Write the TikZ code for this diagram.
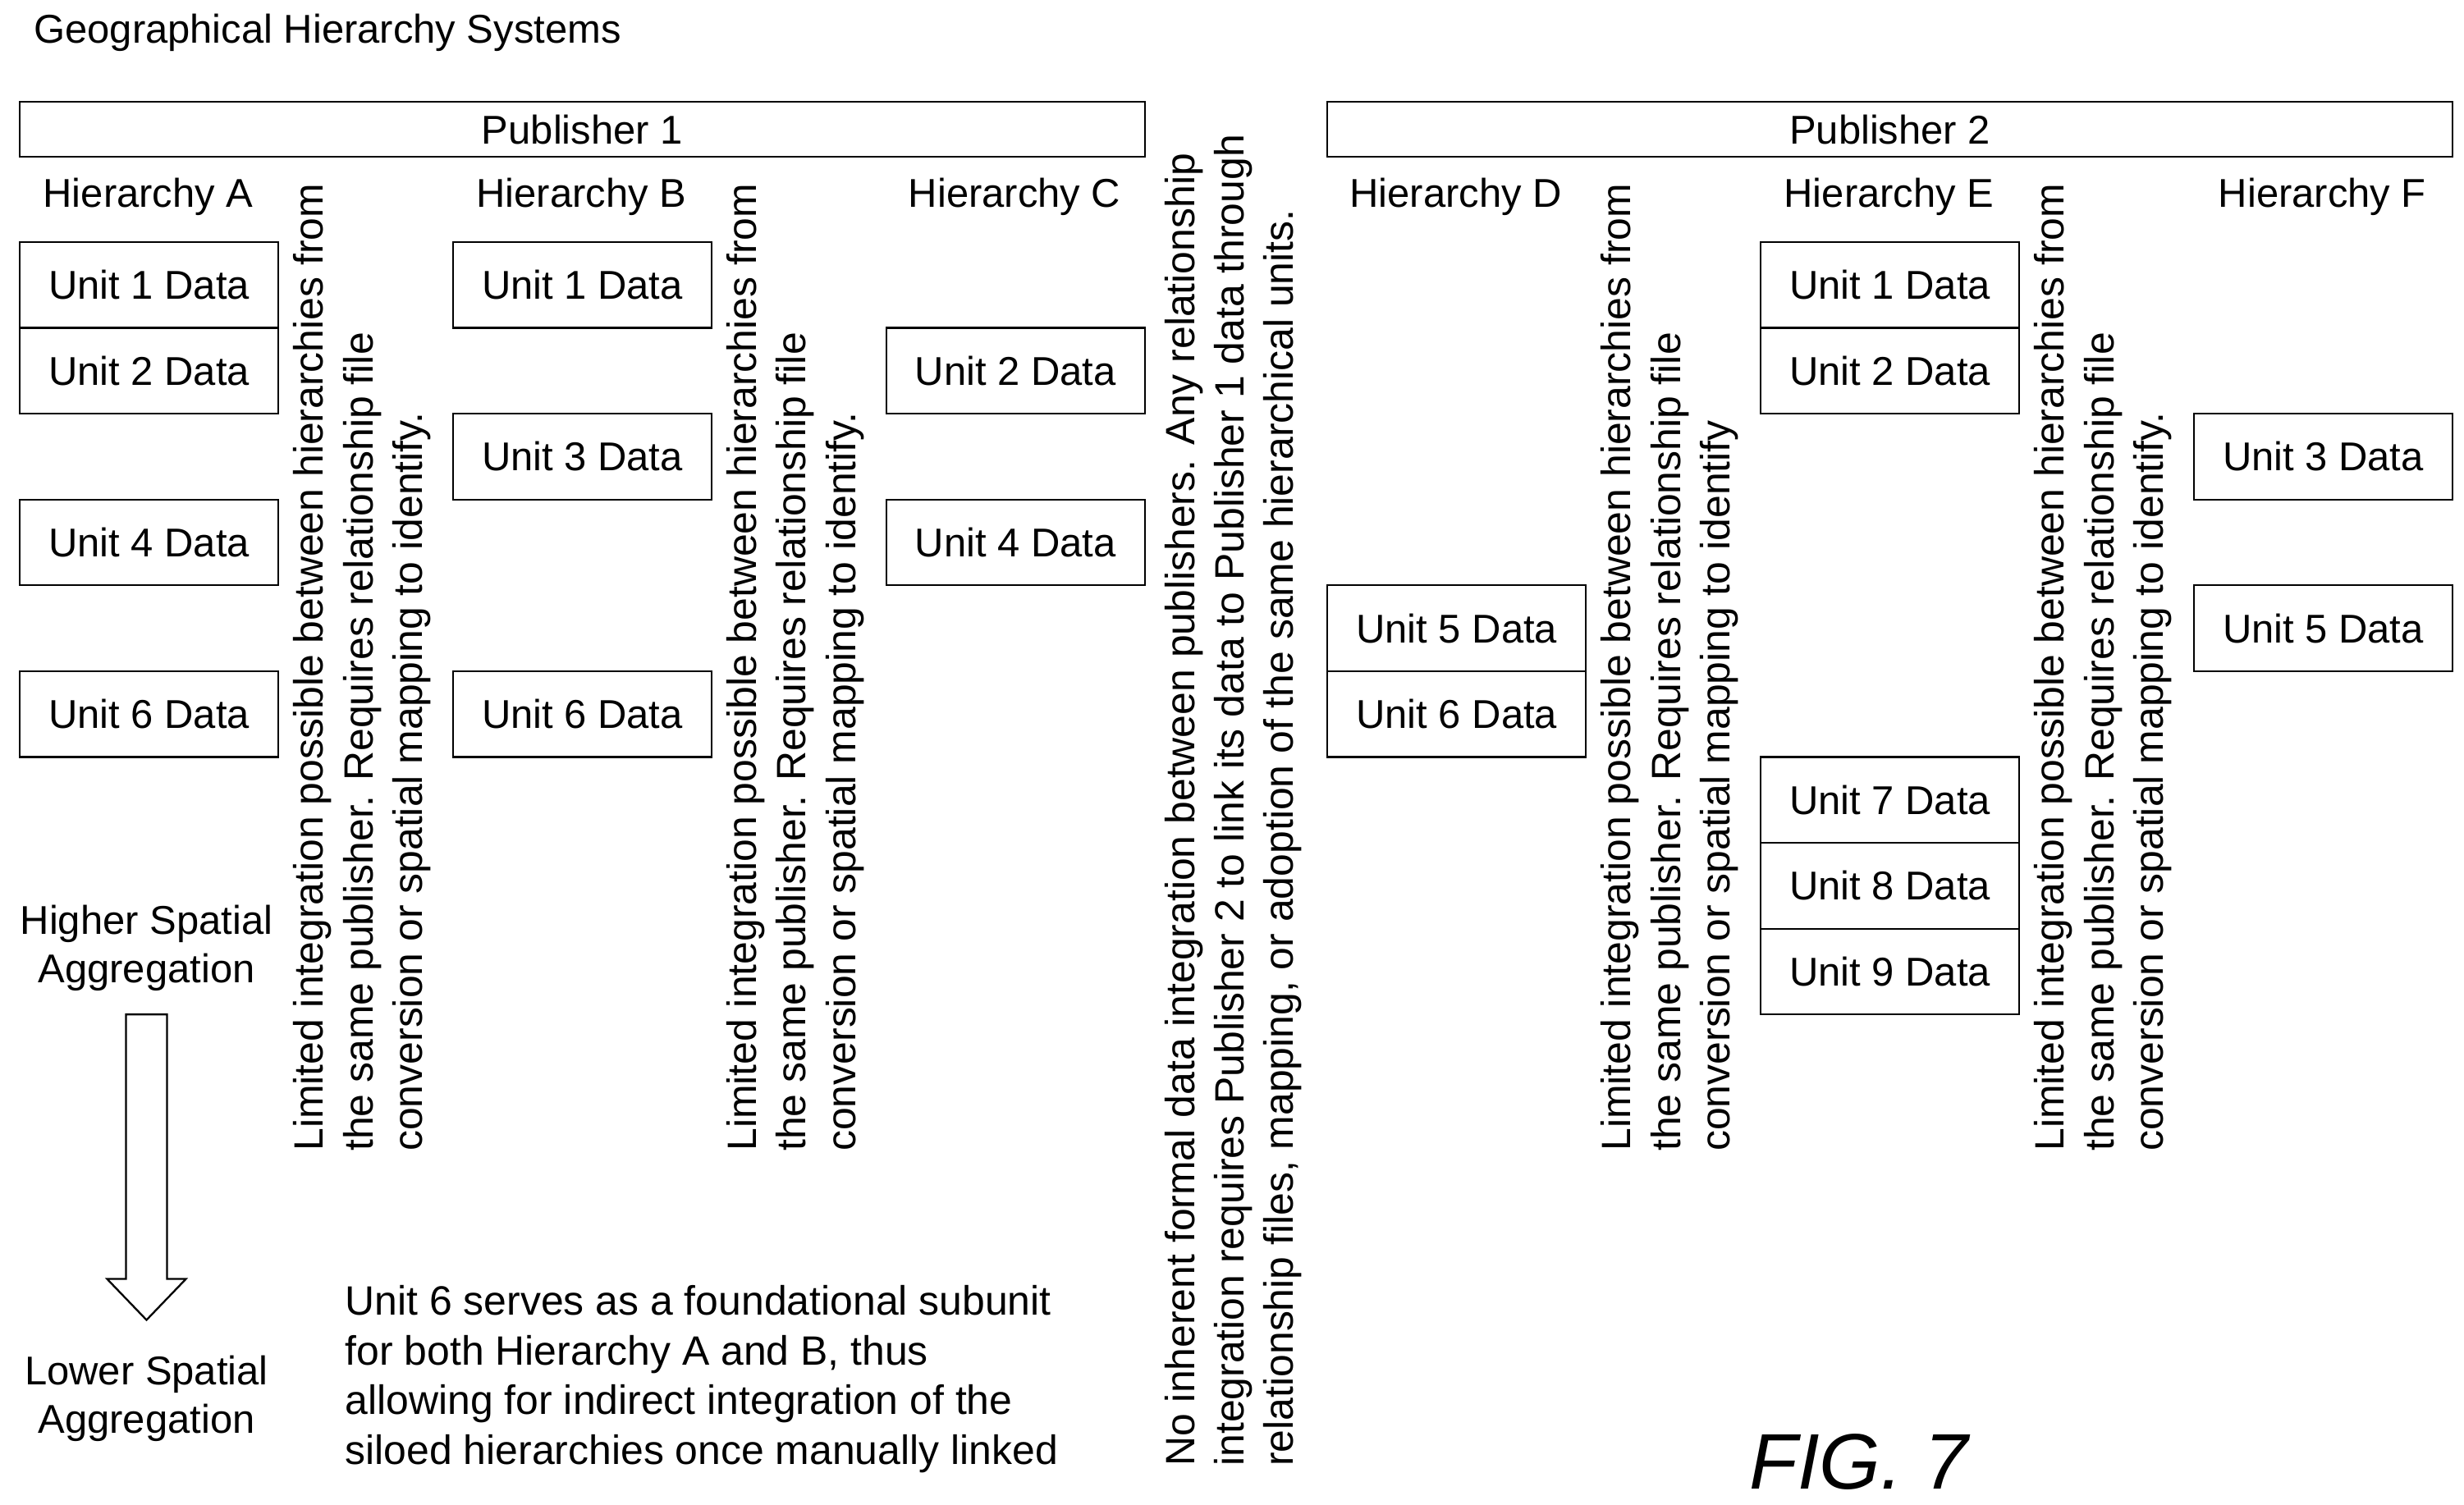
\documentclass[tikz,border=0pt]{standalone}
\usepackage{fontspec}
\setmainfont{Liberation Sans}
\usetikzlibrary{positioning}
\tikzset{
  unit/.style={draw,line width=1.2pt,minimum width=164pt,minimum height=54.5pt,inner sep=0pt,anchor=north west,font=\fontsize{25.5}{30}\selectfont},
  pub/.style={draw,line width=1.2pt,minimum width=714pt,minimum height=35pt,inner sep=0pt,anchor=north west,font=\fontsize{25.5}{30}\selectfont},
  hier/.style={font=\fontsize{25.5}{30}\selectfont},
  note/.style={rotate=90,anchor=north west,align=left,inner sep=0pt,font=\fontsize{26}{31.5}\selectfont},
  lbl/.style={align=center,font=\fontsize{25.5}{31}\selectfont}
}
\begin{document}
\begin{tikzpicture}[x=1pt,y=-1pt]
\useasboundingbox (0,0) rectangle (1564,955);
\node[anchor=west,font=\fontsize{25.5}{30}\selectfont] (title) at (18,21) {Geographical Hierarchy Systems};

\node[pub] (pub1) at (12,64) {Publisher 1};
\node[pub] (pub2) at (842,64) {Publisher 2};

% hierarchies: name / left x / units
\foreach \h/\x/\units in {A/12/{1,2,4,6}, B/287/{1,3,6}, C/562/{2,4}, D/842/{5,6}, E/1117/{1,2,7,8,9}, F/1392/{3,5}} {
  \node[hier] (hier\h) at (\x+82,125) {Hierarchy \h};
  \foreach \u in \units {
    \node[unit] (\h\u) at (\x,{153+54.5*(\u-1)}) {Unit \u\ Data};
  }
}

% notes between hierarchies
\foreach \n/\x/\p in {ab/186/., bc/461/., de/1016/{}, ef/1291/.} {
  \node[note] (note\n) at (\x,731) {Limited integration possible between hierarchies from\\
    the same publisher. Requires relationship file\\
    conversion or spatial mapping to identify\p};
}
\node[note] (notepub) at (739,931) {No inherent formal data integration between publishers. Any relationship\\
  integration requires Publisher 2 to link its data to Publisher 1 data through\\
  relationship files, mapping, or adoption of the same hierarchical units.};

% aggregation arrow
\node[lbl] (higher) at (93,602) {Higher Spatial\\Aggregation};
\node[lbl] (lower) at (93,888) {Lower Spatial\\Aggregation};
\draw[line width=1.2pt] (80,644) -- (106,644) -- (106,812) -- (118,812) -- (93,838)
  -- (68,812) -- (80,812) -- cycle;

\node[anchor=north west,align=left,inner sep=0pt,font=\fontsize{26}{31.5}\selectfont] (unit6note) at (219,816)
  {Unit 6 serves as a foundational subunit\\for both Hierarchy A and B, thus\\allowing for indirect integration of the\\siloed hierarchies once manually linked};

\node[font=\itshape\fontsize{50}{60}\selectfont] (fig) at (1180,928) {FIG. 7};
\end{tikzpicture}
\end{document}
